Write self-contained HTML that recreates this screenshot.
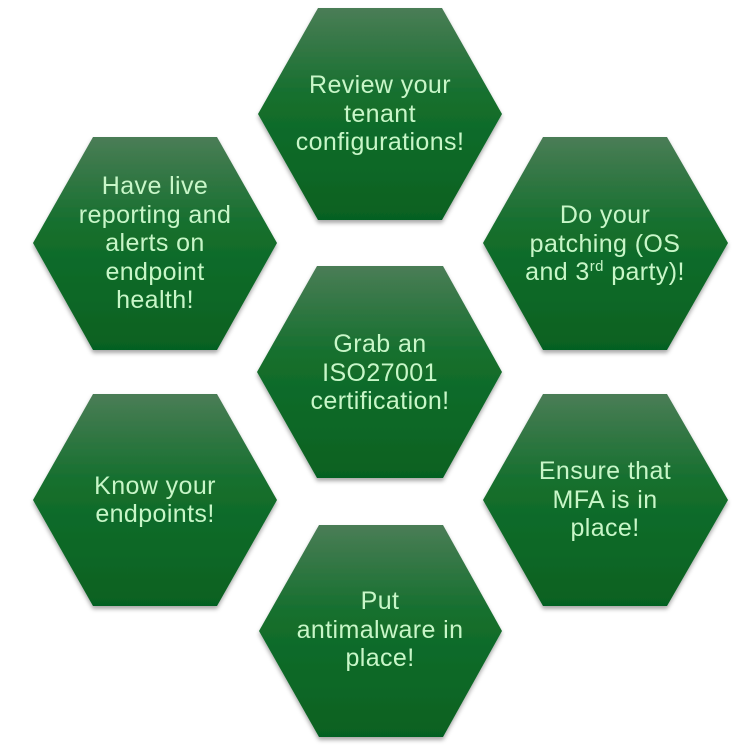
<!DOCTYPE html>
<html>
<head>
<meta charset="utf-8">
<style>
html,body{margin:0;padding:0;background:#fff;}
svg{display:block;}
text{font-family:"Liberation Sans",sans-serif;font-size:25px;letter-spacing:0.4px;fill:#c8f6c8;text-anchor:middle;}
</style>
</head>
<body>
<svg width="753" height="751" viewBox="0 0 753 751" xmlns="http://www.w3.org/2000/svg">
<defs>
<linearGradient id="g" x1="0" y1="0" x2="0" y2="1">
<stop offset="0" stop-color="#4a7d56"/>
<stop offset="0.42" stop-color="#146f2d"/>
<stop offset="1" stop-color="#066121"/>
</linearGradient>
<filter id="sh" x="-10%" y="-10%" width="120%" height="125%">
<feDropShadow dx="0" dy="3" stdDeviation="2" flood-color="#000" flood-opacity="0.35"/>
</filter>
</defs>
<g fill="url(#g)" filter="url(#sh)">
<polygon points="258,114 318,8 442,8 502,114 442,220 318,220"/>
<polygon points="33,243 93,137 217,137 277,243 217,350 93,350"/>
<polygon points="483,243 543,137 667,137 728,243 667,350 543,350"/>
<polygon points="257,372 317,266 443,266 502,372 443,478 317,478"/>
<polygon points="33,500 93,394 217,394 277,500 217,606 93,606"/>
<polygon points="483,500 543,394 667,394 728,500 667,606 543,606"/>
<polygon points="259,631 319,525 443,525 502,631 443,737 319,737"/>
</g>
<text x="380" y="93">Review your</text>
<text x="380" y="122">tenant</text>
<text x="380" y="150">configurations!</text>

<text x="155" y="194">Have live</text>
<text x="155" y="223">reporting and</text>
<text x="155" y="251">alerts on</text>
<text x="155" y="280">endpoint</text>
<text x="155" y="308">health!</text>

<text x="605" y="223">Do your</text>
<text x="605" y="252">patching (OS</text>
<text x="605" y="280">and 3<tspan font-size="15" dy="-9">rd</tspan><tspan dy="9"> party)!</tspan></text>

<text x="380" y="352">Grab an</text>
<text x="380" y="381">ISO27001</text>
<text x="380" y="409">certification!</text>

<text x="155" y="494">Know your</text>
<text x="155" y="522">endpoints!</text>

<text x="605" y="479">Ensure that</text>
<text x="605" y="508">MFA is in</text>
<text x="605" y="536">place!</text>

<text x="380" y="609">Put</text>
<text x="380" y="638">antimalware in</text>
<text x="380" y="666">place!</text>
</svg>
</body>
</html>
